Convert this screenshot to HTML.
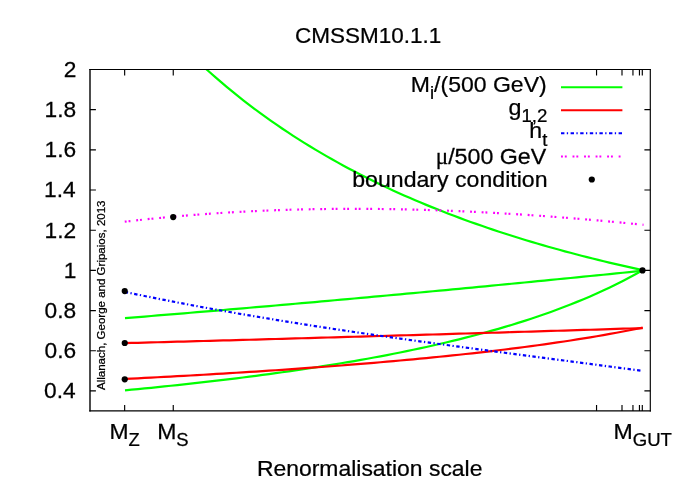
<!DOCTYPE html>
<html><head><meta charset="utf-8"><title>CMSSM10.1.1</title>
<style>
html,body{margin:0;padding:0;background:#fff;}
svg{display:block;will-change:transform;}
text{font-family:"Liberation Sans",sans-serif;fill:#000;font-size:22.3px;stroke:#000;stroke-width:0.25px;}
.s{font-size:17.9px;}
</style></head><body>
<svg width="692" height="485" viewBox="0 0 692 485">
<rect x="0" y="0" width="692" height="485" fill="#fff"/>

<path d="M124.65,410.90 v-5.9 M124.65,69.50 v6.0 M173.25,410.90 v-5.9 M173.25,69.50 v6.0 M596.55,410.90 v-5.9 M596.55,69.50 v6.0 M622.00,410.90 v-5.9 M622.00,69.50 v6.0 M632.95,410.90 v-5.9 M632.95,69.50 v6.0 M639.45,410.90 v-5.9 M639.45,69.50 v6.0 M642.30,410.90 v-5.9 M642.30,69.50 v6.0 M90.00,69.50 h5.9 M650.30,69.50 h-5.9 M90.00,109.68 h5.9 M650.30,109.68 h-5.9 M90.00,149.86 h5.9 M650.30,149.86 h-5.9 M90.00,190.04 h5.9 M650.30,190.04 h-5.9 M90.00,230.22 h5.9 M650.30,230.22 h-5.9 M90.00,270.40 h5.9 M650.30,270.40 h-5.9 M90.00,310.58 h5.9 M650.30,310.58 h-5.9 M90.00,350.76 h5.9 M650.30,350.76 h-5.9 M90.00,390.94 h5.9 M650.30,390.94 h-5.9" stroke="#000" stroke-width="1.15" fill="none"/>
<text transform="translate(63.68,76.90) scale(1.0200,1)">2</text>
<text transform="translate(44.55,117.08) scale(1.0200,1)">1.8</text>
<text transform="translate(44.55,157.26) scale(1.0200,1)">1.6</text>
<text transform="translate(44.04,197.44) scale(1.0200,1)">1.4</text>
<text transform="translate(44.55,237.62) scale(1.0200,1)">1.2</text>
<text transform="translate(63.68,277.80) scale(1.0200,1)">1</text>
<text transform="translate(44.55,317.98) scale(1.0200,1)">0.8</text>
<text transform="translate(44.55,358.16) scale(1.0200,1)">0.6</text>
<text transform="translate(44.04,398.34) scale(1.0200,1)">0.4</text>
<defs><clipPath id="pc"><rect x="90.00" y="69.50" width="560.30" height="341.40"/></clipPath></defs>
<g fill="none" stroke-width="2.2" stroke-linejoin="miter" clip-path="url(#pc)">
<path d="M204.50,67.56 L210.04,72.55 L215.59,77.43 L221.13,82.20 L226.68,86.87 L232.22,91.44 L237.77,95.91 L243.31,100.28 L248.85,104.57 L254.40,108.76 L259.94,112.87 L265.49,116.89 L271.03,120.83 L276.58,124.69 L282.12,128.47 L287.66,132.17 L293.21,135.80 L298.75,139.36 L304.30,142.85 L309.84,146.27 L315.39,149.62 L320.93,152.91 L326.47,156.13 L332.02,159.29 L337.56,162.39 L343.11,165.43 L348.65,168.42 L354.20,171.34 L359.74,174.22 L365.28,177.04 L370.83,179.80 L376.37,182.52 L381.92,185.19 L387.46,187.81 L393.01,190.38 L398.55,192.90 L404.09,195.38 L409.64,197.81 L415.18,200.20 L420.73,202.55 L426.27,204.86 L431.82,207.12 L437.36,209.35 L442.91,211.54 L448.45,213.69 L453.99,215.80 L459.54,217.88 L465.08,219.92 L470.63,221.92 L476.17,223.89 L481.72,225.83 L487.26,227.74 L492.80,229.61 L498.35,231.45 L503.89,233.26 L509.44,235.04 L514.98,236.80 L520.53,238.52 L526.07,240.21 L531.61,241.88 L537.16,243.52 L542.70,245.13 L548.25,246.72 L553.79,248.27 L559.34,249.81 L564.88,251.32 L570.42,252.80 L575.97,254.27 L581.51,255.70 L587.06,257.12 L592.60,258.51 L598.15,259.88 L603.69,261.23 L609.23,262.56 L614.78,263.86 L620.32,265.15 L625.87,266.41 L631.41,267.66 L636.96,268.88 L642.50,270.09" stroke="#00ff00"/>
<path d="M125.00,318.13 L131.55,317.60 L138.10,317.07 L144.65,316.53 L151.20,316.00 L157.75,315.46 L164.30,314.92 L170.85,314.38 L177.41,313.84 L183.96,313.30 L190.51,312.75 L197.06,312.20 L203.61,311.66 L210.16,311.10 L216.71,310.55 L223.26,310.00 L229.81,309.44 L236.36,308.88 L242.91,308.32 L249.46,307.76 L256.01,307.19 L262.56,306.63 L269.11,306.06 L275.66,305.49 L282.22,304.92 L288.77,304.34 L295.32,303.77 L301.87,303.19 L308.42,302.61 L314.97,302.03 L321.52,301.45 L328.07,300.86 L334.62,300.27 L341.17,299.69 L347.72,299.10 L354.27,298.50 L360.82,297.91 L367.37,297.31 L373.92,296.72 L380.47,296.12 L387.03,295.52 L393.58,294.91 L400.13,294.31 L406.68,293.70 L413.23,293.09 L419.78,292.48 L426.33,291.87 L432.88,291.26 L439.43,290.64 L445.98,290.03 L452.53,289.41 L459.08,288.79 L465.63,288.16 L472.18,287.54 L478.73,286.91 L485.28,286.29 L491.84,285.66 L498.39,285.03 L504.94,284.39 L511.49,283.76 L518.04,283.13 L524.59,282.49 L531.14,281.85 L537.69,281.21 L544.24,280.57 L550.79,279.92 L557.34,279.28 L563.89,278.63 L570.44,277.98 L576.99,277.33 L583.54,276.68 L590.09,276.03 L596.65,275.37 L603.20,274.72 L609.75,274.06 L616.30,273.40 L622.85,272.74 L629.40,272.08 L635.95,271.41 L642.50,270.75" stroke="#00ff00"/>
<path d="M125.00,390.33 L131.55,389.71 L138.10,389.08 L144.65,388.44 L151.20,387.79 L157.75,387.13 L164.30,386.46 L170.85,385.78 L177.41,385.09 L183.96,384.38 L190.51,383.67 L197.06,382.94 L203.61,382.20 L210.16,381.45 L216.71,380.69 L223.26,379.91 L229.81,379.12 L236.36,378.32 L242.91,377.50 L249.46,376.67 L256.01,375.82 L262.56,374.96 L269.11,374.08 L275.66,373.19 L282.22,372.28 L288.77,371.35 L295.32,370.41 L301.87,369.45 L308.42,368.47 L314.97,367.47 L321.52,366.45 L328.07,365.41 L334.62,364.35 L341.17,363.27 L347.72,362.17 L354.27,361.05 L360.82,359.90 L367.37,358.73 L373.92,357.53 L380.47,356.31 L387.03,355.06 L393.58,353.79 L400.13,352.48 L406.68,351.15 L413.23,349.79 L419.78,348.40 L426.33,346.97 L432.88,345.51 L439.43,344.02 L445.98,342.49 L452.53,340.93 L459.08,339.33 L465.63,337.68 L472.18,336.00 L478.73,334.27 L485.28,332.50 L491.84,330.68 L498.39,328.82 L504.94,326.91 L511.49,324.94 L518.04,322.92 L524.59,320.84 L531.14,318.71 L537.69,316.51 L544.24,314.25 L550.79,311.93 L557.34,309.53 L563.89,307.06 L570.44,304.52 L576.99,301.89 L583.54,299.18 L590.09,296.39 L596.65,293.50 L603.20,290.52 L609.75,287.44 L616.30,284.24 L622.85,280.94 L629.40,277.52 L635.95,273.97 L642.50,270.30" stroke="#00ff00"/>
<path d="M561,87.2 H622.4" stroke-width="2" stroke="#00ff00"/>
<path d="M124.75,378.95 L131.31,378.62 L137.86,378.29 L144.42,377.95 L150.98,377.61 L157.53,377.27 L164.09,376.92 L170.64,376.57 L177.20,376.21 L183.76,375.84 L190.31,375.48 L196.87,375.10 L203.43,374.73 L209.98,374.35 L216.54,373.96 L223.09,373.57 L229.65,373.17 L236.21,372.77 L242.76,372.36 L249.32,371.95 L255.88,371.53 L262.43,371.10 L268.99,370.67 L275.55,370.23 L282.10,369.79 L288.66,369.34 L295.21,368.88 L301.77,368.42 L308.33,367.95 L314.88,367.47 L321.44,366.98 L328.00,366.49 L334.55,365.99 L341.11,365.48 L347.67,364.97 L354.22,364.44 L360.78,363.91 L367.33,363.37 L373.89,362.82 L380.45,362.26 L387.00,361.69 L393.56,361.11 L400.12,360.52 L406.67,359.92 L413.23,359.31 L419.78,358.69 L426.34,358.06 L432.90,357.42 L439.45,356.76 L446.01,356.10 L452.57,355.42 L459.12,354.73 L465.68,354.02 L472.24,353.30 L478.79,352.57 L485.35,351.82 L491.90,351.05 L498.46,350.27 L505.02,349.48 L511.57,348.66 L518.13,347.83 L524.69,346.99 L531.24,346.12 L537.80,345.23 L544.36,344.32 L550.91,343.40 L557.47,342.45 L564.02,341.48 L570.58,340.48 L577.14,339.46 L583.69,338.41 L590.25,337.34 L596.81,336.24 L603.36,335.11 L609.92,333.95 L616.47,332.76 L623.03,331.54 L629.59,330.28 L636.14,328.99 L642.70,327.66" stroke="#ff0000"/>
<path d="M124.75,343.13 L131.31,342.96 L137.86,342.78 L144.42,342.61 L150.98,342.43 L157.53,342.25 L164.09,342.08 L170.64,341.90 L177.20,341.72 L183.76,341.54 L190.31,341.36 L196.87,341.18 L203.43,341.00 L209.98,340.82 L216.54,340.64 L223.09,340.46 L229.65,340.28 L236.21,340.10 L242.76,339.92 L249.32,339.74 L255.88,339.55 L262.43,339.37 L268.99,339.19 L275.55,339.00 L282.10,338.82 L288.66,338.63 L295.21,338.45 L301.77,338.26 L308.33,338.08 L314.88,337.89 L321.44,337.71 L328.00,337.52 L334.55,337.33 L341.11,337.14 L347.67,336.96 L354.22,336.77 L360.78,336.58 L367.33,336.39 L373.89,336.20 L380.45,336.01 L387.00,335.82 L393.56,335.63 L400.12,335.44 L406.67,335.25 L413.23,335.06 L419.78,334.86 L426.34,334.67 L432.90,334.48 L439.45,334.29 L446.01,334.09 L452.57,333.90 L459.12,333.70 L465.68,333.51 L472.24,333.31 L478.79,333.12 L485.35,332.92 L491.90,332.73 L498.46,332.53 L505.02,332.33 L511.57,332.13 L518.13,331.94 L524.69,331.74 L531.24,331.54 L537.80,331.34 L544.36,331.14 L550.91,330.94 L557.47,330.74 L564.02,330.54 L570.58,330.34 L577.14,330.14 L583.69,329.93 L590.25,329.73 L596.81,329.53 L603.36,329.33 L609.92,329.12 L616.47,328.92 L623.03,328.71 L629.59,328.51 L636.14,328.31 L642.70,328.10" stroke="#ff0000"/>
<path d="M561,110.2 H622.4" stroke-width="2" stroke="#ff0000"/>
<path d="M124.75,291.92 L131.30,293.28 L137.86,294.63 L144.41,295.97 L150.97,297.28 L157.52,298.59 L164.07,299.88 L170.63,301.15 L177.18,302.41 L183.73,303.66 L190.29,304.90 L196.84,306.11 L203.40,307.32 L209.95,308.52 L216.50,309.70 L223.06,310.86 L229.61,312.02 L236.16,313.16 L242.72,314.30 L249.27,315.42 L255.83,316.53 L262.38,317.63 L268.93,318.71 L275.49,319.79 L282.04,320.86 L288.59,321.91 L295.15,322.96 L301.70,324.00 L308.26,325.03 L314.81,326.05 L321.36,327.06 L327.92,328.06 L334.47,329.05 L341.03,330.04 L347.58,331.02 L354.13,331.99 L360.69,332.95 L367.24,333.90 L373.79,334.85 L380.35,335.80 L386.90,336.73 L393.46,337.66 L400.01,338.58 L406.56,339.50 L413.12,340.42 L419.67,341.32 L426.22,342.23 L432.78,343.12 L439.33,344.02 L445.89,344.91 L452.44,345.79 L458.99,346.68 L465.55,347.55 L472.10,348.43 L478.66,349.30 L485.21,350.17 L491.76,351.04 L498.32,351.91 L504.87,352.77 L511.42,353.63 L517.98,354.49 L524.53,355.35 L531.09,356.21 L537.64,357.07 L544.19,357.92 L550.75,358.78 L557.30,359.64 L563.85,360.49 L570.41,361.35 L576.96,362.21 L583.52,363.07 L590.07,363.93 L596.62,364.79 L603.18,365.66 L609.73,366.52 L616.28,367.39 L622.84,368.26 L629.39,369.13 L635.95,370.01 L642.50,370.89" stroke="#0000ff" stroke-dasharray="3.4 2.4 1.3 2.5"/>
<path d="M561,133.3 H622.4" stroke-width="2" stroke="#0000ff" stroke-dasharray="3.4 2.4 1.3 2.5"/>
<path d="M124.75,221.71 L131.32,220.94 L137.88,220.21 L144.45,219.49 L151.02,218.80 L157.58,218.14 L164.15,217.50 L170.72,216.89 L177.28,216.30 L183.85,215.73 L190.41,215.19 L196.98,214.67 L203.55,214.17 L210.11,213.70 L216.68,213.25 L223.25,212.83 L229.81,212.42 L236.38,212.04 L242.95,211.68 L249.51,211.35 L256.08,211.03 L262.65,210.74 L269.21,210.47 L275.78,210.22 L282.34,209.99 L288.91,209.78 L295.48,209.60 L302.04,209.43 L308.61,209.29 L315.18,209.16 L321.74,209.06 L328.31,208.97 L334.88,208.91 L341.44,208.86 L348.01,208.84 L354.58,208.83 L361.14,208.84 L367.71,208.87 L374.28,208.92 L380.84,208.99 L387.41,209.08 L393.97,209.18 L400.54,209.30 L407.11,209.44 L413.67,209.60 L420.24,209.78 L426.81,209.97 L433.37,210.18 L439.94,210.41 L446.51,210.65 L453.07,210.91 L459.64,211.19 L466.21,211.48 L472.77,211.79 L479.34,212.11 L485.91,212.45 L492.47,212.80 L499.04,213.17 L505.60,213.56 L512.17,213.96 L518.74,214.37 L525.30,214.80 L531.87,215.25 L538.44,215.70 L545.00,216.17 L551.57,216.66 L558.14,217.16 L564.70,217.67 L571.27,218.20 L577.84,218.73 L584.40,219.29 L590.97,219.85 L597.53,220.43 L604.10,221.01 L610.67,221.61 L617.23,222.23 L623.80,222.85 L630.37,223.49 L636.93,224.13 L643.50,224.79" stroke="#ff00ff" stroke-dasharray="1.9 1.93 1.9 5.8"/>
<path d="M561,156.4 H622.4" stroke-width="2" stroke="#ff00ff" stroke-dasharray="1.9 1.93 1.9 5.8"/>
</g>
<g stroke="#000" fill="none"><path d="M89.3,69.5 H650.9" stroke-width="1"/><path d="M90,69 V411.6" stroke-width="1.4"/><path d="M650.3,69 V411.6" stroke-width="1.15"/><path d="M89.3,410.9 H650.9" stroke-width="1.4"/></g>
<text transform="translate(410.79,92.40) scale(1.0327,1)">M<tspan class="s" dy="6.2">i</tspan><tspan dy="-6.2">/(500 GeV)</tspan></text>
<text transform="translate(508.45,115.20) scale(1.0451,1)">g<tspan class="s" dy="6.9">1,2</tspan></text>
<text transform="translate(529.35,138.40) scale(1.0349,1)">h<tspan class="s" dy="7.6">t</tspan></text>
<text transform="translate(435.68,164.40) scale(1.0417,1)"><tspan font-family="Liberation Serif">μ</tspan>/500 GeV</text>
<text transform="translate(352.25,186.60) scale(1.0367,1)">boundary condition</text>
<circle cx="124.75" cy="291.10" r="3.1" fill="#000"/>
<circle cx="124.75" cy="343.00" r="3.1" fill="#000"/>
<circle cx="124.75" cy="379.30" r="3.1" fill="#000"/>
<circle cx="173.20" cy="217.10" r="3.1" fill="#000"/>
<circle cx="642.50" cy="270.40" r="3.1" fill="#000"/>
<circle cx="591.80" cy="179.50" r="3.1" fill="#000"/>
<text transform="translate(294.99,42.60) scale(1.0091,1)">CMSSM10.1.1</text>
<text transform="translate(256.90,476.00) scale(1.0288,1)">Renormalisation scale</text>
<text transform="translate(109.50,438.90) scale(1.0275,1)">M<tspan class="s" dy="7">Z</tspan></text>
<text transform="translate(157.19,438.90) scale(1.0321,1)">M<tspan class="s" dy="7">S</tspan></text>
<text transform="translate(613.44,439.00) scale(1.0369,1)">M<tspan class="s" dy="7">GUT</tspan></text>
<text transform="translate(105.4,390.00) rotate(-90) scale(1.0978,1)"><tspan font-size="10.5px">Allanach, George and Gripaios, 2013</tspan></text>
</svg></body></html>
